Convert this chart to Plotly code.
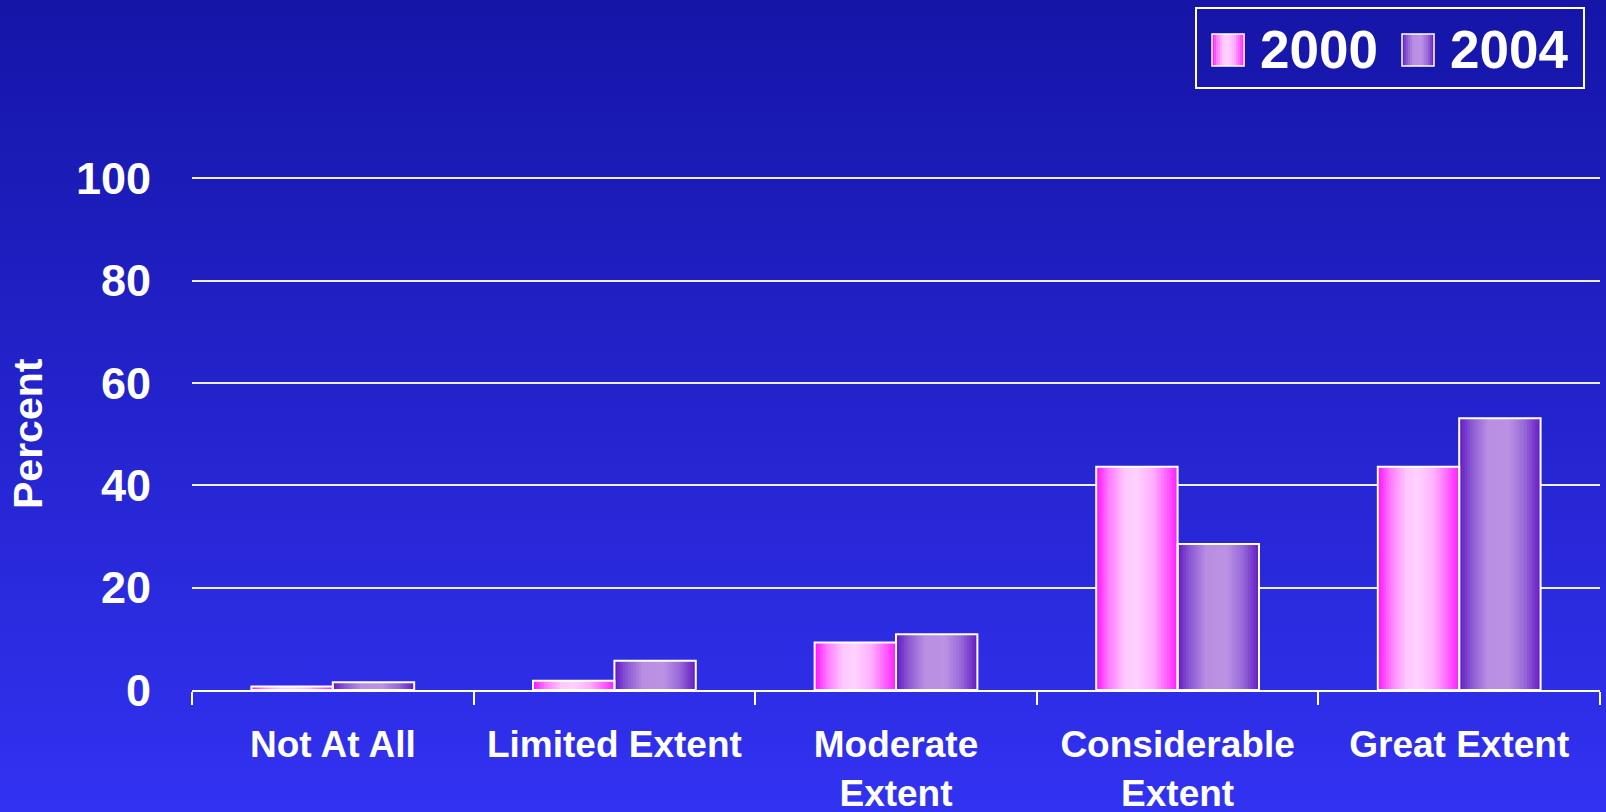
import plotly.graph_objects as go

# ---------------- data ----------------
categories = ["Not At All", "Limited Extent", "Moderate Extent", "Considerable Extent", "Great Extent"]
tick_labels = ["Not At All", "Limited Extent", "Moderate<br>Extent", "Considerable<br>Extent", "Great Extent"]
series_names = ["2000", "2004"]
values_2000 = [0.7, 1.8, 9.3, 43.6, 43.6]
values_2004 = [1.5, 5.7, 10.9, 28.5, 53.1]
y_ticks = [0, 20, 40, 60, 80, 100]

# ---------------- styling ----------------
W, H = 1606, 812
Y_MAX = 101
ML, MR, MB = 192, 6, 122
MT = H - MB - round(512 * Y_MAX / 100)
PW, PH = W - ML - MR, H - MT - MB
FONT = "Liberation Sans, Arial, sans-serif"

grad_2000 = [(0.0, (255, 16, 255)), (0.15, (255, 120, 255)), (0.35, (255, 200, 255)),
             (0.5, (255, 210, 255)), (0.7, (255, 175, 255)), (0.9, (255, 80, 255)), (1.0, (255, 30, 255))]
grad_2004 = [(0.0, (98, 24, 196)), (0.15, (138, 88, 212)), (0.35, (184, 142, 226)),
             (0.6, (188, 146, 228)), (0.8, (152, 106, 216)), (1.0, (100, 26, 196))]
gradients = [grad_2000, grad_2004]
series_values = [values_2000, values_2004]


def interp(stops, t):
    for (t0, c0), (t1, c1) in zip(stops[:-1], stops[1:]):
        if t0 <= t <= t1:
            f = 0 if t1 == t0 else (t - t0) / (t1 - t0)
            c = [round(a + (b - a) * f) for a, b in zip(c0, c1)]
            return "rgb(%d,%d,%d)" % tuple(c)
    return "rgb(%d,%d,%d)" % stops[-1][1]


def px2x(px):
    return (px - ML) / PW


def px2y(py):
    return (H - MB - py) / PH


fig = go.Figure()

BAR_W = 0.289
N_STRIPS = 30
strip_w = BAR_W / N_STRIPS
for s, (name, vals, grad) in enumerate(zip(series_names, series_values, gradients)):
    start = -BAR_W + s * BAR_W
    for i in range(N_STRIPS):
        t = (i + 0.5) / N_STRIPS
        w = strip_w * (1.6 if i < N_STRIPS - 1 else 1.0)
        fig.add_trace(go.Bar(
            x=categories, y=vals, width=w, offset=start + i * strip_w,
            marker=dict(color=interp(grad, t), line=dict(width=0)),
            showlegend=False, hoverinfo="skip", name=name))
# outlines
for s, (name, vals) in enumerate(zip(series_names, series_values)):
    start = -BAR_W + s * BAR_W
    fig.add_trace(go.Bar(
        x=categories, y=vals, width=BAR_W, offset=start, name=name,
        marker=dict(color="rgba(0,0,0,0)", line=dict(color="white", width=2)),
        showlegend=False))

shapes = []
# background vertical gradient
top_c, bot_c = (21, 21, 168), (50, 50, 242)
step = 8
for py in range(0, H, step):
    f = (py + step / 2) / H
    c = tuple(round(a + (b - a) * f) for a, b in zip(top_c, bot_c))
    shapes.append(dict(type="rect", xref="paper", yref="paper", layer="below",
                       x0=px2x(-5), x1=px2x(W + 5), y0=px2y(py + step + 1), y1=px2y(py - (5 if py == 0 else 0)),
                       fillcolor="rgb(%d,%d,%d)" % c, line=dict(width=0)))

# legend (manual)
shapes.append(dict(type="rect", xref="paper", yref="paper",
                   x0=px2x(1196), x1=px2x(1584), y0=px2y(88), y1=px2y(8),
                   line=dict(color="white", width=2), fillcolor="rgba(0,0,0,0)"))
annotations = []
leg_sq_x = [1212, 1402]
leg_txt_x = [1258, 1448]
for name, grad, sx, tx in zip(series_names, gradients, leg_sq_x, leg_txt_x):
    n = 16
    for i in range(n):
        shapes.append(dict(type="rect", xref="paper", yref="paper",
                           x0=px2x(sx + i * 2), x1=px2x(sx + i * 2 + 2.6),
                           y0=px2y(66), y1=px2y(34),
                           fillcolor=interp(grad, (i + 0.5) / n), line=dict(width=0)))
    shapes.append(dict(type="rect", xref="paper", yref="paper",
                       x0=px2x(sx), x1=px2x(sx + 32), y0=px2y(66), y1=px2y(34),
                       line=dict(color="white", width=1.5), fillcolor="rgba(0,0,0,0)"))
    annotations.append(dict(text=name, xref="paper", yref="paper", x=px2x(tx), y=px2y(50),
                            xanchor="left", yanchor="middle", showarrow=False,
                            font=dict(family=FONT, size=53, color="white", weight="bold")))

annotations.append(dict(text="Percent", xref="paper", yref="paper", x=px2x(28), y=px2y(434),
                        xanchor="center", yanchor="middle", textangle=-90, showarrow=False,
                        font=dict(family=FONT, size=41, color="white", weight="bold")))

fig.update_layout(
    width=W, height=H, autosize=False,
    margin=dict(l=ML, r=MR, t=MT, b=MB, pad=0, autoexpand=False),
    paper_bgcolor="rgb(50,50,242)", plot_bgcolor="rgba(0,0,0,0)",
    barmode="overlay", showlegend=False,
    shapes=shapes, annotations=annotations,
    xaxis=dict(categoryorder="array", categoryarray=categories,
               tickmode="array", tickvals=categories, ticktext=tick_labels,
               showline=True, linecolor="white", linewidth=2,
               ticks="outside", tickson="boundaries", ticklen=13, tickwidth=2, tickcolor="white",
               showgrid=False, zeroline=False, automargin=False,
               tickfont=dict(family=FONT, size=37, color="white", weight="bold"),
               ticklabelstandoff=21, range=[-0.5, 4.5]),
    yaxis=dict(range=[0, Y_MAX], tickmode="array", tickvals=y_ticks,
               showgrid=True, gridcolor="rgba(255,255,255,0.92)", gridwidth=1.5,
               zeroline=False, showline=False, ticks="", automargin=False,
               tickfont=dict(family=FONT, size=45, color="white", weight="bold"),
               ticklabelstandoff=40),
)

fig.write_html("out.html")
